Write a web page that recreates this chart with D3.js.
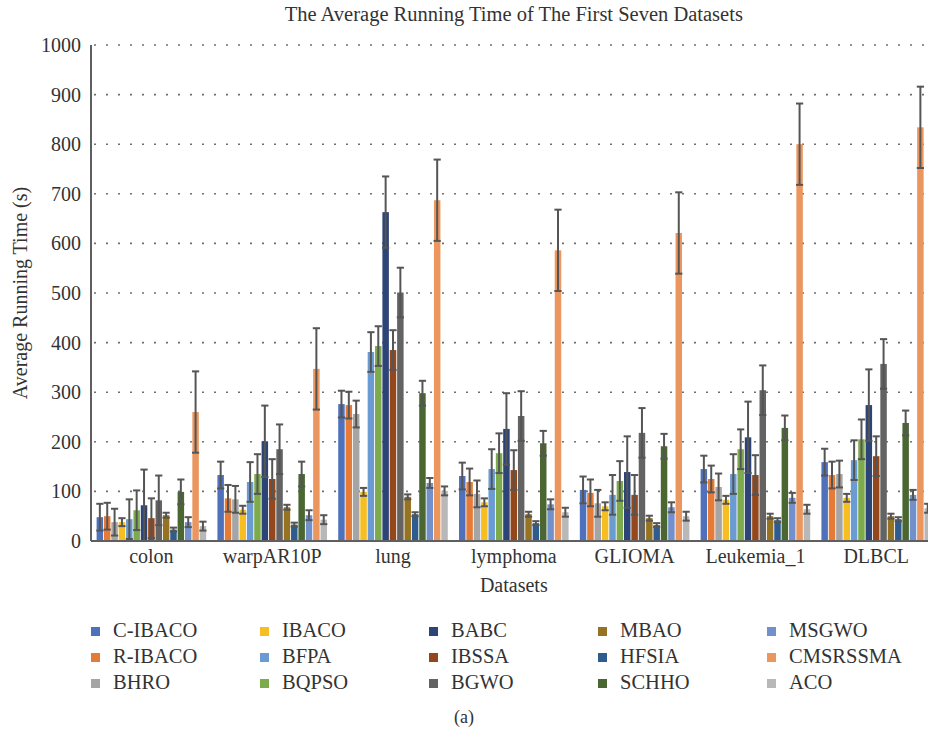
<!DOCTYPE html>
<html>
<head>
<meta charset="utf-8">
<script src="https://cdn.jsdelivr.net/npm/d3@7"></script>
<style>
  html, body { margin: 0; padding: 0; background: #fff; }
  svg { display: block; }
  text { font-family: "Liberation Serif", "DejaVu Serif", serif; fill: #333; }
</style>
</head>
<body>
<svg id="chart" width="928" height="735"></svg>
<script>
// ---- data ----
const datasets = ["colon", "warpAR10P", "lung", "lymphoma", "GLIOMA", "Leukemia_1", "DLBCL"];
const seriesNames = ["C-IBACO", "R-IBACO", "BHRO", "IBACO", "BFPA", "BQPSO", "BABC", "IBSSA",
                     "BGWO", "MBAO", "HFSIA", "SCHHO", "MSGWO", "CMSRSSMA", "ACO"];
const cIBACO   = [48, 133, 276, 131, 103, 145, 159];
const rIBACO   = [50, 86, 274, 119, 97, 125, 133];
const bHRO     = [38, 84, 256, 95, 76, 109, 135];
const iBACO    = [38, 63, 99, 78, 70, 83, 87];
const bFPA     = [44, 119, 381, 145, 93, 135, 163];
const bQPSO    = [62, 135, 393, 177, 121, 185, 205];
const bABC     = [72, 201, 663, 226, 139, 209, 274];
const iBSSA    = [46, 125, 385, 143, 93, 133, 171];
const bGWO     = [82, 185, 501, 252, 218, 304, 357];
const mBAO     = [52, 68, 89, 54, 46, 50, 50];
const hFSIA    = [23, 33, 54, 36, 32, 42, 44];
const sCHHO    = [99, 135, 298, 197, 191, 228, 238];
const mSGWO    = [38, 52, 117, 74, 68, 87, 93];
const cMSRSSMA = [260, 347, 687, 586, 621, 800, 834];
const aCO      = [30, 43, 101, 58, 50, 64, 66];
const seriesValues = [cIBACO, rIBACO, bHRO, iBACO, bFPA, bQPSO, bABC, iBSSA,
                      bGWO, mBAO, hFSIA, sCHHO, mSGWO, cMSRSSMA, aCO];
const seriesErrors = [27, 27, 27, 8, 40, 40, 72, 40, 50, 5, 4, 25, 10, 82, 9];
const colors = ["#4F71BC", "#E67B37", "#A5A5A5", "#F7BE22", "#6A9BD3", "#7DAB4B", "#2C4476", "#94471A",
                "#636363", "#957322", "#2F5C8E", "#4A6631", "#7290CC", "#EA965E", "#B9B8B8"];
const yTicks = [0, 100, 200, 300, 400, 500, 600, 700, 800, 900, 1000];

// ---- layout ----
const svg = d3.select("#chart");
const pLeft = 91, pRight = 936.6, pTop = 45, pBottom = 541;

const x0 = d3.scaleBand().domain(datasets).range([pLeft, pRight]).paddingInner(0.093).paddingOuter(0.0465);
const x1 = d3.scaleBand().domain(seriesNames).range([0, x0.bandwidth()]).paddingInner(0.12);
const y = d3.scaleLinear().domain([0, 1000]).range([pBottom, pTop]);
const color = d3.scaleOrdinal().domain(seriesNames).range(colors);

// gridlines
svg.append("g").selectAll("line").data(yTicks.filter(d => d > 0)).join("line")
  .attr("x1", pLeft + 3).attr("x2", 928)
  .attr("y1", d => y(d)).attr("y2", d => y(d))
  .attr("stroke", "#6f6f6f").attr("stroke-width", 1.6)
  .attr("stroke-dasharray", "2,10");

// bars
const flat = [];
seriesNames.forEach((s, si) => {
  datasets.forEach((d, di) => {
    flat.push({ s, d, v: seriesValues[si][di], e: seriesErrors[si] });
  });
});

svg.append("g").selectAll("rect").data(flat).join("rect")
  .attr("x", d => x0(d.d) + x1(d.s))
  .attr("width", x1.bandwidth())
  .attr("y", d => y(d.v))
  .attr("height", d => y(0) - y(d.v))
  .attr("fill", d => color(d.s));

// error bars
const eg = svg.append("g").attr("stroke", "#555").attr("stroke-width", 2).attr("fill", "none");
flat.forEach(d => {
  const cx = x0(d.d) + x1(d.s) + x1.bandwidth() / 2;
  const lo = Math.max(0, d.v - d.e), hi = d.v + d.e;
  const cap = 3.6;
  eg.append("line").attr("x1", cx).attr("x2", cx).attr("y1", y(lo)).attr("y2", y(hi));
  eg.append("line").attr("x1", cx - cap).attr("x2", cx + cap).attr("y1", y(hi)).attr("y2", y(hi));
  eg.append("line").attr("x1", cx - cap).attr("x2", cx + cap).attr("y1", y(lo)).attr("y2", y(lo));
});

// axes lines
svg.append("line").attr("x1", pLeft).attr("x2", pLeft).attr("y1", y(1000)).attr("y2", pBottom)
  .attr("stroke", "#5f5f5f").attr("stroke-width", 2);
svg.append("line").attr("x1", pLeft).attr("x2", 928).attr("y1", pBottom).attr("y2", pBottom)
  .attr("stroke", "#5f5f5f").attr("stroke-width", 2);

// y axis labels via d3 axis
const yAxis = d3.axisLeft(y).tickValues(yTicks).tickSize(0).tickPadding(10).tickFormat(d3.format("d"));
const yg = svg.append("g").attr("transform", `translate(${pLeft},0)`).call(yAxis);
yg.select(".domain").remove();
yg.selectAll("text").attr("font-size", 20).attr("fill", "#333")
  .style("font-family", "'Liberation Serif', serif");

// x axis labels
const xAxis = d3.axisBottom(x0).tickSize(0).tickPadding(8);
const xg = svg.append("g").attr("transform", `translate(0,${pBottom})`).call(xAxis);
xg.select(".domain").remove();
xg.selectAll("text").attr("font-size", 20).attr("fill", "#333")
  .style("font-family", "'Liberation Serif', serif");

// titles
const plotCenter = (pLeft + pRight) / 2;
svg.append("text").attr("x", plotCenter).attr("y", 21).attr("text-anchor", "middle")
  .attr("font-size", 20.5).text("The Average Running Time of The First Seven Datasets");
svg.append("text").attr("x", plotCenter).attr("y", 592).attr("text-anchor", "middle")
  .attr("font-size", 20).text("Datasets");
svg.append("text").attr("transform", `translate(27,${(pTop + pBottom) / 2}) rotate(-90)`)
  .attr("text-anchor", "middle").attr("font-size", 20).text("Average Running Time (s)");

// legend (column-major, 3 rows)
const legX = [91, 260, 429, 598, 767];
const legY = [637, 663, 689];
const lg = svg.append("g");
seriesNames.forEach((s, i) => {
  const col = Math.floor(i / 3), row = i % 3;
  const g = lg.append("g").attr("transform", `translate(${legX[col]},${legY[row]})`);
  g.append("rect").attr("x", 0).attr("y", -10).attr("width", 9).attr("height", 9).attr("fill", color(s));
  g.append("text").attr("x", 22).attr("y", 0).attr("font-size", 20.5).text(s);
});

svg.append("text").attr("x", 464).attr("y", 723).attr("text-anchor", "middle")
  .attr("font-size", 18).text("(a)");
</script>
</body>
</html>
